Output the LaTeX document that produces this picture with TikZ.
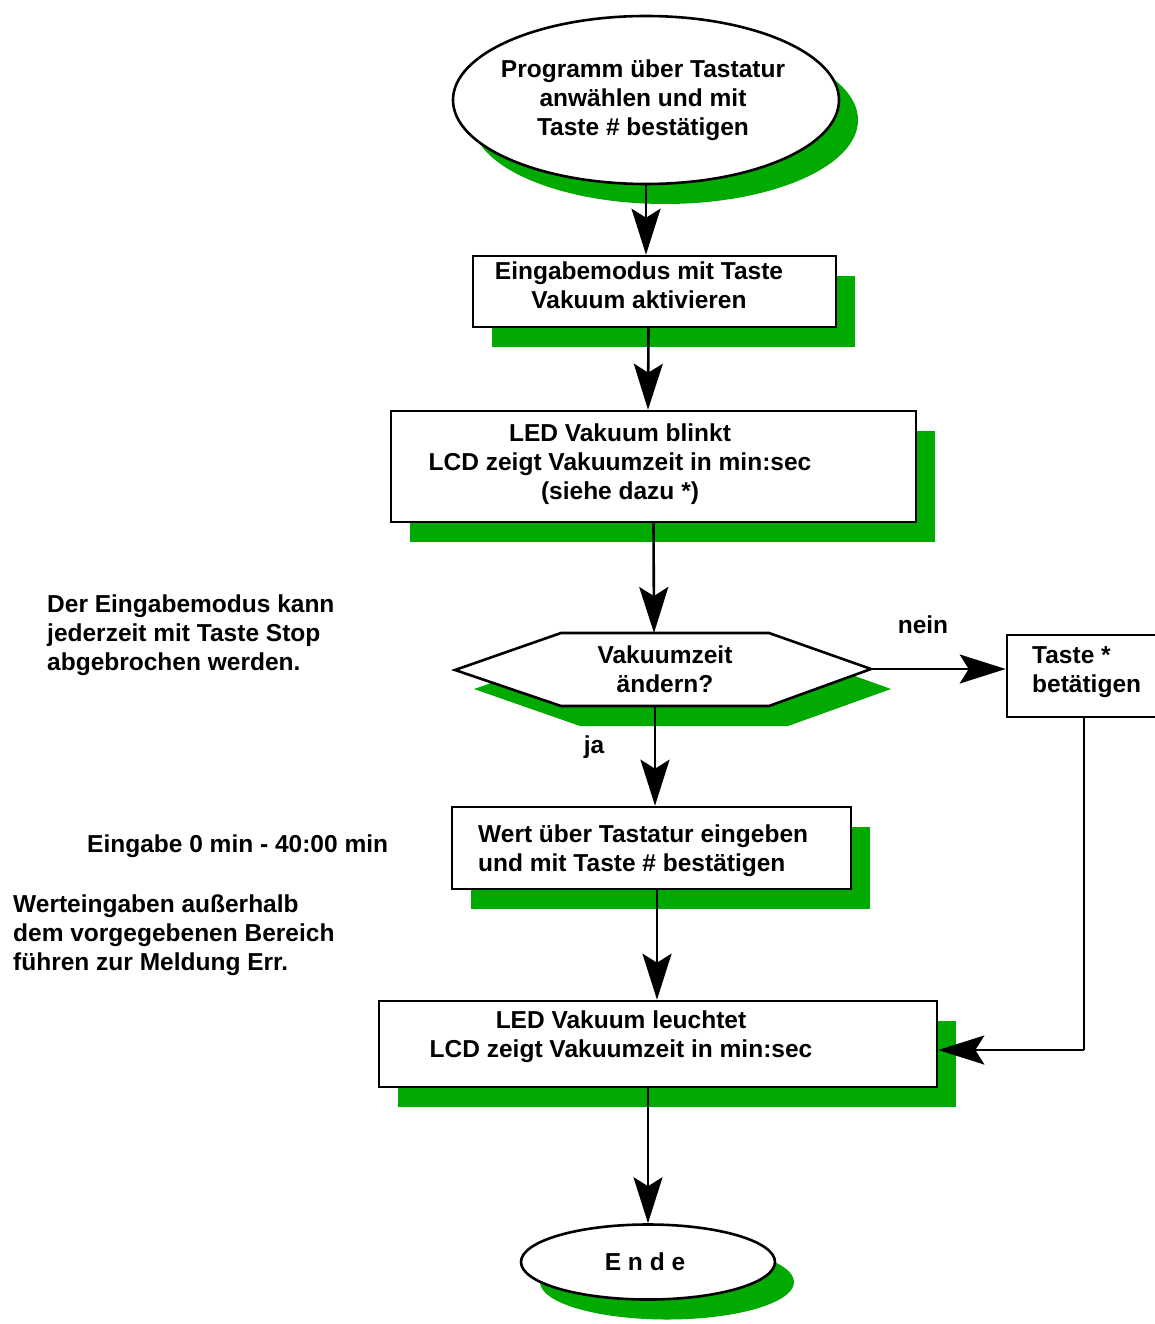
\documentclass[tikz,border=0pt]{standalone}
\usepackage{fontspec}
\setmainfont{Liberation Sans}
\usetikzlibrary{arrows.meta,shapes.geometric,shadows,calc}
\definecolor{shadowgreen}{HTML}{00AA00}
\begin{document}
\begin{tikzpicture}[x=1pt,y=-1pt,
  every node/.style={font=\fontsize{24.5}{29}\selectfont\bfseries, inner sep=0pt},
  greenshadow/.style={drop shadow={shadow xshift=19pt, shadow yshift=-20pt, fill=shadowgreen, opacity=1}},
  stepbox/.style={draw, line width=2.6pt, fill=white, rectangle, greenshadow},
  terminal/.style={draw, line width=2.6pt, fill=white, ellipse, greenshadow},
  plainbox/.style={draw, line width=2.6pt, fill=white, rectangle},
  flow/.style={line width=2.6pt, -{Stealth[length=46pt, width=29pt, inset=9pt]}},
  wire/.style={line width=2.6pt},
  note/.style={align=left, anchor=north west}
]
\useasboundingbox (0,0) rectangle (1155,1324);

% start
\node[terminal, minimum width=386pt, minimum height=168pt] (start) at (646,100) {};
\node[align=center] (starttxt) at (643,100) {Programm über Tastatur\\anwählen und mit\\Taste \# bestätigen};

% input mode box
\node[stepbox, minimum width=363pt, minimum height=71pt] (mode) at (654.5,291.5) {};
\node[align=center] (modetxt) at (639,285) {Eingabemodus mit Taste\\Vakuum aktivieren};

% LED blinks box
\node[stepbox, minimum width=525pt, minimum height=111pt] (blink) at (653.5,466.5) {};
\node[align=center] (blinktxt) at (620,464) {LED Vakuum blinkt\\LCD zeigt Vakuumzeit in min:sec\\(siehe dazu *)};

% decision hexagon
\fill[shadowgreen] (474,689) -- (580,652) -- (788,652) -- (891,689) -- (788,726) -- (580,726) -- cycle;
\draw[line width=2.6pt, fill=white, line join=miter] (455,670) -- (561,633) -- (769,633) -- (871,669) -- (769,706) -- (561,706) -- cycle;
\coordinate (hexR) at (871,669);
\node[align=center] (dec) at (665,669) {Vakuumzeit\\ändern?};

% key * box
\node[plainbox, minimum width=165pt, minimum height=82pt] (star) at (1089.5,676) {};
\node[align=left, anchor=west] (startxt) at (1032,672) {Taste *\\betätigen};

% value entry box
\node[stepbox, minimum width=399pt, minimum height=82pt] (entry) at (651.5,848) {};
\node[align=left, anchor=west] (entrytxt) at (478,851) {Wert über Tastatur eingeben\\und mit Taste \# bestätigen};

% LED on box
\node[stepbox, minimum width=558pt, minimum height=86pt] (lit) at (658,1044) {};
\node[align=center] (littxt) at (621,1037) {LED Vakuum leuchtet\\LCD zeigt Vakuumzeit in min:sec};

% end
\node[terminal, minimum width=254pt, minimum height=75pt] (ende) at (648,1262) {};
\node (endetxt) at (645,1262) {E n d e};

% side notes
\node[note] (n1) at (47,595) {Der Eingabemodus kann\\jederzeit mit Taste Stop\\abgebrochen werden.};
\node[anchor=west] (n2) at (87,846) {Eingabe 0 min - 40:00 min};
\node[note] (n3) at (13,895) {Werteingaben außerhalb\\dem vorgegebenen Bereich\\führen zur Meldung Err.};

% branch labels
\node (ja) at (594,747) {ja};
\node (nein) at (923,625) {nein};

% connectors
\draw[flow] (start.south) -- (start.south |- mode.north);
\draw[flow] ($(mode.south)+(-6,0)$) -- ($(blink.north)+(-5.5,0)$);
\draw[flow] (blink.south) -- (654,633);
\draw[flow] (655,706) -- (entry.north -| 655,0);
\draw[flow] ($(entry.south)+(5.5,0)$) -- ($(lit.north)+(-1,0)$);
\draw[flow] (lit.south -| ende.north) -- (ende.north);
\draw[flow] (hexR) -- (hexR -| star.west);
\draw[wire] (star.south -| 1084,0) -- (1084,1050);
\draw[flow] (1084,1050) -- (1084,1050 -| lit.east);
\end{tikzpicture}
\end{document}
